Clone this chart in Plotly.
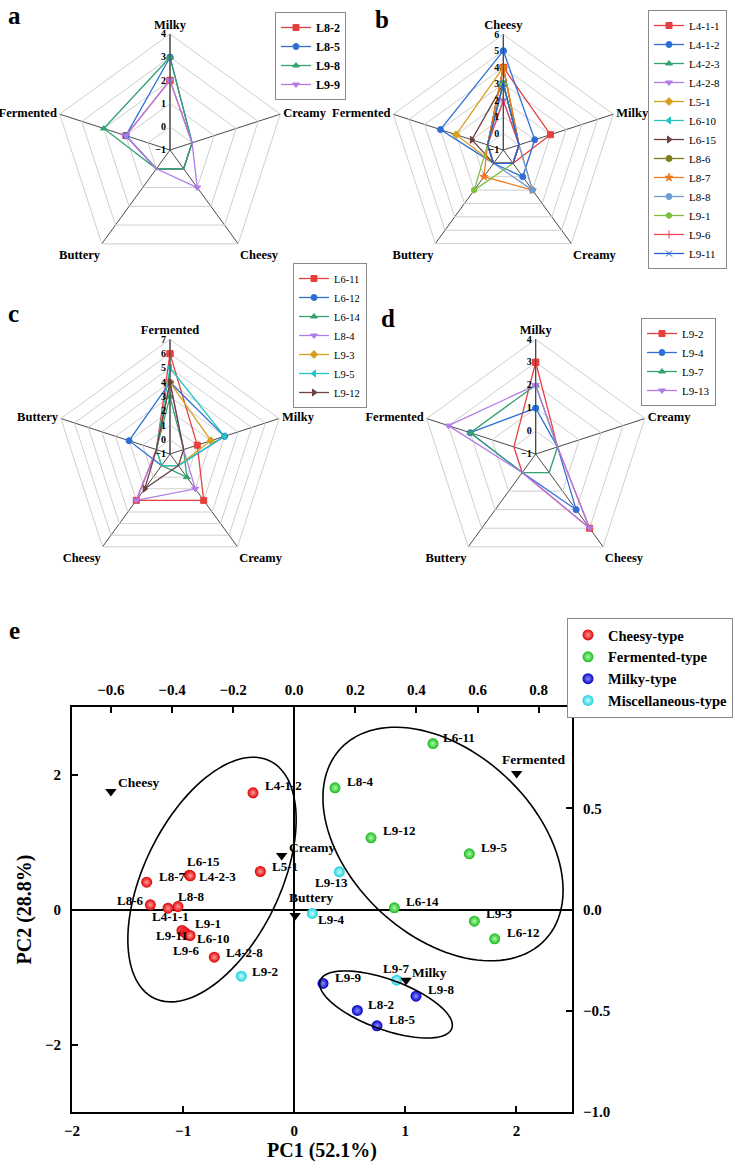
import math
import plotly.graph_objects as go

FONT = "Liberation Serif"

# ---------------- Radar data ----------------
a_axes = ["Milky", "Creamy", "Cheesy", "Buttery", "Fermented"]
a_names = ["L8-2", "L8-5", "L9-8", "L9-9"]
a_vals = [[2, 0, 0, 0, 1], [3, 0, 0, 0, 1], [3, 0, 0, 0, 2], [2, 0, 1, 0, 1]]

b_axes = ["Cheesy", "Milky", "Creamy", "Buttery", "Fermented"]
b_names = ["L4-1-1", "L4-1-2", "L4-2-3", "L4-2-8", "L5-1", "L6-10", "L6-15",
           "L8-6", "L8-7", "L8-8", "L9-1", "L9-6", "L9-11"]
b_vals = [[4, 2, 0, 0, 0], [5, 1, 1, 0, 3], [3, 0, 0, 0, 0], [2, 0, 0, 0, 0],
          [4, 0, 0, 0, 2], [3, 0, 0, 0, 0], [3, 0, 0, 0, 1], [4, 0, 0, 0, 0],
          [4, 0, 2, 1, 0], [3, 0, 2, 0, 0], [3, 0, 0, 2, 0], [2, 0, 0, 0, 0],
          [3, 0, 0, 0, 0]]

c_axes = ["Fermented", "Milky", "Creamy", "Cheesy", "Buttery"]
c_names = ["L6-11", "L6-12", "L6-14", "L8-4", "L9-3", "L9-5", "L9-12"]
c_vals = [[6, 1, 3, 3, 0], [4, 3, 0, 0, 2], [3, 0, 1, 0, 0], [4, 0, 2, 3, 0],
          [4, 2, 0, 0, 0], [5, 3, 0, 0, 0], [4, 0, 0, 2, 0]]

d_axes = ["Milky", "Creamy", "Cheesy", "Buttery", "Fermented"]
d_names = ["L9-2", "L9-4", "L9-7", "L9-13"]
d_vals = [[3, 0, 3, 0, 0], [1, 0, 2, 0, 2], [2, 0, 0, 0, 2], [2, 0, 3, 0, 3]]

series_colors = ["#E5403F", "#2E6FD6", "#35A271", "#B27CE8", "#D6A01C", "#27C4C4",
                 "#6E4242", "#7D7D1C", "#F07A1E", "#6C9DD4", "#7DBF3F", "#E8455A", "#2563D0"]
series_symbols = ["square", "circle", "triangle-up", "triangle-down", "diamond",
                  "triangle-left", "triangle-right", "circle", "star", "circle",
                  "hexagon", "line-ns-open", "x-thin-open"]

# ---------------- PCA data ----------------
groups = ["Cheesy-type", "Fermented-type", "Milky-type", "Miscellaneous-type"]
cheesy_names = ["L4-1-2", "L5-1", "L6-15", "L4-2-3", "L8-7", "L8-6", "L4-1-1", "L8-8",
                "L9-11", "L9-1", "L9-6", "L6-10", "L4-2-8"]
cheesy_pc1 = [-0.371, -0.305, -0.944, -0.935, -1.328, -1.295, -1.136, -1.046,
              -1.010, -0.983, -0.965, -0.938, -0.719]
cheesy_pc2 = [1.729, 0.563, 0.508, 0.500, 0.404, 0.070, 0.019, 0.044,
              -0.311, -0.341, -0.370, -0.385, -0.707]

ferm_names = ["L6-11", "L8-4", "L9-12", "L9-5", "L6-14", "L9-3", "L6-12"]
ferm_pc1 = [1.249, 0.367, 0.691, 1.576, 0.901, 1.621, 1.804]
ferm_pc2 = [2.459, 1.803, 1.062, 0.825, 0.025, -0.173, -0.434]

milky_names = ["L9-9", "L9-8", "L8-2", "L8-5"]
milky_pc1 = [0.259, 1.096, 0.568, 0.745]
milky_pc2 = [-1.096, -1.284, -1.496, -1.723]

misc_names = ["L9-2", "L9-4", "L9-13", "L9-7"]
misc_pc1 = [-0.476, 0.163, 0.406, 0.922]
misc_pc2 = [-0.988, -0.059, 0.559, -1.047]

load_names = ["Cheesy", "Creamy", "Buttery", "Fermented", "Milky"]
load_pc1 = [-0.600, -0.041, 0.003, 0.728, 0.366]
load_pc2 = [0.583, 0.267, -0.030, 0.672, -0.349]

# ellipse params: center (PC1, PC2), semi-axes (px), angle (deg)
ellipses = [
    dict(cx=-0.740, cy=0.444, a=132, b=68, ang=64),
    dict(cx=1.339, cy=0.970, a=140, b=92, ang=-43),
    dict(cx=0.826, cy=-1.407, a=70, b=25, ang=-20),
]

# label placement (anchor, dx, dy) in pixels
cheesy_lab = [("left", 10, -7), ("left", 10, -5), ("center", 14, -14), ("left", 7, 1),
              ("left", 10, -6), ("right", -4, -4), ("center", 2, 8), ("left", -2, -10),
              ("right", 8, 5), ("left", 8, -9), ("center", -1, 16), ("left", 5, 3),
              ("left", 10, -5)]
ferm_lab = [("left", 8, -6), ("left", 10, -6), ("left", 10, -7), ("left", 10, -6),
            ("left", 10, -6), ("left", 10, -8), ("left", 10, -6)]
milky_lab = [("left", 10, -6), ("left", 10, -7), ("left", 9, -6), ("left", 10, -6)]
misc_lab = [("left", 9, -5), ("left", 4, 6), ("center", -8, 11), ("center", 0, -12)]
load_lab = [("left", 5, -9), ("left", 5, -8), ("left", -8, -18), ("center", 17, -14), ("left", 4, -8)]

W, H = 735, 1174
fig = go.Figure()


def add_radar(names, axes, vals, subplot, legend):
    for i, (n, v) in enumerate(zip(names, vals)):
        c = series_colors[i]
        fig.add_trace(go.Scatterpolar(
            r=v + v[:1], theta=axes + axes[:1], name=n, mode="lines+markers",
            line=dict(color=c, width=1.3),
            marker=dict(color=c, symbol=series_symbols[i], size=6, line=dict(color=c, width=1)),
            subplot=subplot, legend=legend))


add_radar(a_names, a_axes, a_vals, "polar", "legend")
add_radar(b_names, b_axes, b_vals, "polar2", "legend2")
add_radar(c_names, c_axes, c_vals, "polar3", "legend3")
add_radar(d_names, d_axes, d_vals, "polar4", "legend4")


def polar_layout(cx, cy, R, axes, rmax):
    return dict(
        domain=dict(x=[(cx - R) / W, (cx + R) / W], y=[1 - (cy + R) / H, 1 - (cy - R) / H]),
        gridshape="linear", bgcolor="rgba(0,0,0,0)",
        angularaxis=dict(rotation=90, direction="clockwise", categoryorder="array",
                         categoryarray=axes, ticks="", showline=True, linecolor="#cfcfcf",
                         gridcolor="#4a4a4a", gridwidth=1,
                         tickfont=dict(family=FONT, size=12.5, color="black", weight="bold")),
        radialaxis=dict(range=[-1, rmax], tickvals=list(range(-1, rmax + 1)), angle=90,
                        tickangle=90, side="counterclockwise", showline=True, linecolor="#444444",
                        linewidth=1, gridcolor="#cfcfcf", ticks="",
                        tickfont=dict(family=FONT, size=10, color="black", weight="bold")),
    )


# ---------------- PCA traces ----------------
sx = 500 / 4.5
sy = 405 / 6.0
for e in ellipses:
    th = math.radians(e["ang"])
    pts = []
    for k in range(121):
        t = 2 * math.pi * k / 120
        u, v = e["a"] * math.cos(t), e["b"] * math.sin(t)
        du = u * math.cos(th) - v * math.sin(th)
        dv = u * math.sin(th) + v * math.cos(th)
        pts.append((e["cx"] + du / sx, e["cy"] + dv / sy))
    path = "M " + " L ".join(f"{x:.4f},{y:.4f}" for x, y in pts) + " Z"
    fig.add_shape(type="path", path=path, xref="x", yref="y",
                  line=dict(color="black", width=1.6), layer="above")

grp_data = [
    (cheesy_names, cheesy_pc1, cheesy_pc2, cheesy_lab, "#E00000", "#FF9C9C"),
    (ferm_names, ferm_pc1, ferm_pc2, ferm_lab, "#1DB81D", "#A8FFA8"),
    (milky_names, milky_pc1, milky_pc2, milky_lab, "#0000C8", "#8C8CFF"),
    (misc_names, misc_pc1, misc_pc2, misc_lab, "#1ECFE0", "#C8FFFF"),
]
annotations = []
for g, (nm, xs, ys, lab, col, hi) in zip(groups, grp_data):
    fig.add_trace(go.Scatter(
        x=xs, y=ys, mode="markers", name=g, xaxis="x", yaxis="y", legend="legend5",
        marker=dict(size=11, color=col, gradient=dict(type="radial", color=hi), line=dict(width=0))))
    for n, x, y, (anc, dx, dy) in zip(nm, xs, ys, lab):
        annotations.append(dict(x=x, y=y, xref="x", yref="y", text=n, showarrow=False,
                                xanchor=anc, yanchor="middle", xshift=dx, yshift=-dy,
                                font=dict(family=FONT, size=13, color="black", weight="bold")))

fig.add_trace(go.Scatter(
    x=load_pc1, y=load_pc2, mode="markers", xaxis="x2", yaxis="y2", showlegend=False,
    marker=dict(symbol="triangle-down", size=10, color="black")))
for n, x, y, (anc, dx, dy) in zip(load_names, load_pc1, load_pc2, load_lab):
    annotations.append(dict(x=x, y=y, xref="x2", yref="y2", text=n, showarrow=False,
                            xanchor=anc, yanchor="middle", xshift=dx, yshift=-dy,
                            font=dict(family=FONT, size=13.5, color="black", weight="bold")))

# panel letters
for letter, px, py in [("a", 6, 0), ("b", 373, 4), ("c", 6, 298), ("d", 379, 303), ("e", 7, 615)]:
    annotations.append(dict(x=px / W, y=1 - py / H, xref="paper", yref="paper", text=letter,
                            showarrow=False, xanchor="left", yanchor="top",
                            font=dict(family=FONT, size=25, color="black", weight="bold")))

tickfont = dict(family=FONT, size=15, color="black", weight="bold")
titlefont = dict(family=FONT, size=20, color="black", weight="bold")
xdom = [72 / W, 572 / W]
ydom = [1 - 1112 / H, 1 - 707 / H]


def legend_cfg(px, py, size, bold, anchor="top"):
    return dict(x=px / W, y=1 - py / H, xanchor="left", yanchor=anchor, xref="paper", yref="paper",
                bgcolor="white", bordercolor="#8a8a8a", borderwidth=1, tracegroupgap=0,
                font=dict(family=FONT, size=size, color="black", weight="bold" if bold else "normal"))


fig.update_layout(
    width=W, height=H, paper_bgcolor="white", plot_bgcolor="white",
    margin=dict(l=0, r=0, t=0, b=0, autoexpand=False),
    polar=polar_layout(170, 150, 116, a_axes, 4),
    polar2=polar_layout(503.3, 150, 115.7, b_axes, 6),
    polar3=polar_layout(170, 454, 114.7, c_axes, 7),
    polar4=polar_layout(535.7, 454, 114.7, d_axes, 4),
    legend=legend_cfg(275, 12, 12, True),
    legend2=legend_cfg(648, 10, 11, False),
    legend3=legend_cfg(293, 408, 10.5, False, anchor="bottom"),
    legend4=legend_cfg(641, 318, 11, False),
    legend5=legend_cfg(567, 618, 14.5, True),
    xaxis=dict(domain=xdom, range=[-2, 2.5], tickvals=[-2, -1, 0, 1, 2], anchor="y",
               showline=True, linecolor="black", linewidth=2, mirror=False,
               ticks="inside", ticklen=6, tickwidth=2, tickcolor="black", showgrid=False,
               zeroline=True, zerolinecolor="black", zerolinewidth=1.5,
               tickfont=tickfont, ticklabelstandoff=4,
               title=dict(text="PC1 (52.1%)", font=titlefont, standoff=4)),
    yaxis=dict(domain=ydom, range=[-3, 3], tickvals=[-2, 0, 2], anchor="x",
               showline=True, linecolor="black", linewidth=2,
               ticks="inside", ticklen=6, tickwidth=2, tickcolor="black", showgrid=False,
               zeroline=True, zerolinecolor="black", zerolinewidth=1.5,
               tickfont=tickfont, ticklabelstandoff=6,
               title=dict(text="PC2 (28.8%)", font=titlefont, standoff=8)),
    xaxis2=dict(domain=xdom, range=[-2 / 2.75, 2.5 / 2.75], overlaying="x", side="top", anchor="y2",
                tickvals=[-0.6, -0.4, -0.2, 0.0, 0.2, 0.4, 0.6, 0.8], tickformat=".1f",
                showline=True, linecolor="black", linewidth=2, ticks="inside", ticklen=6,
                tickwidth=2, tickcolor="black", showgrid=False, zeroline=False,
                tickfont=tickfont, ticklabelstandoff=4),
    yaxis2=dict(domain=ydom, range=[-1, 1], overlaying="y", side="right", anchor="x2",
                tickvals=[-1.0, -0.5, 0.0, 0.5, 1.0], tickformat=".1f",
                showline=True, linecolor="black", linewidth=2, ticks="inside", ticklen=6,
                tickwidth=2, tickcolor="black", showgrid=False, zeroline=False,
                tickfont=tickfont, ticklabelstandoff=6),
    annotations=annotations,
)

fig.write_html("out.html", config={"displayModeBar": False},
               post_script="document.body.style.margin='0px';")
